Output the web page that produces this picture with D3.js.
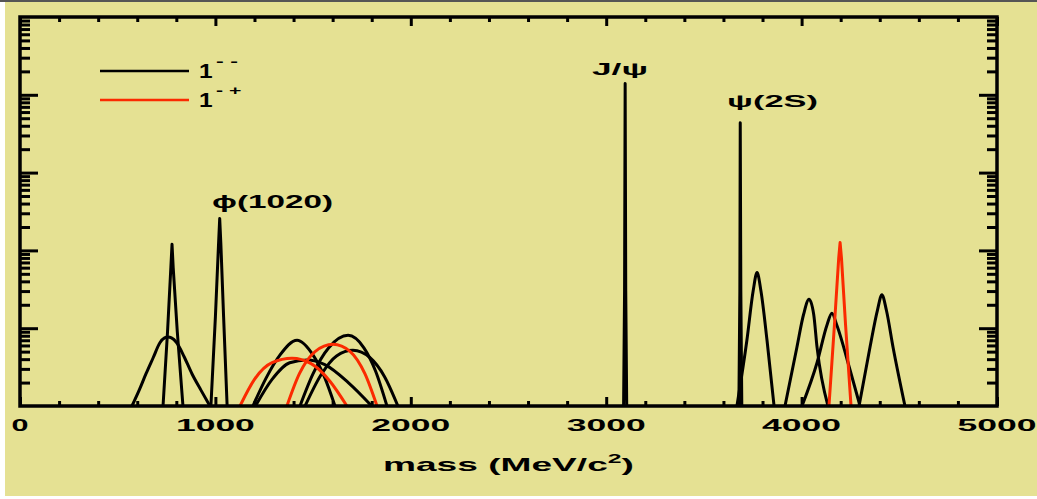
<!DOCTYPE html>
<html><head><meta charset="utf-8">
<script src="https://cdn.jsdelivr.net/npm/d3@7"></script>
<style>html,body{margin:0;padding:0;background:#fff;}svg{display:block;}</style>
</head><body>
<svg id="c" width="1037" height="499"></svg>
<script>
// ---- data: [mass MeV/c^2, relative value] ----
const rho770   = [[573,1],[610,1.6],[645,2.6],[682,4.2],[716,6.5],[740,7.5],[757,7.7],[775,7.5],[800,6.6],[840,4.3],[880,2.6],[926,1.6],[972,1]];
const omega782 = [[732,1],[755,9],[772,60],[778,120],[784,60],[805,9],[834,1]];
const phi1020  = [[977,1],[1000,14],[1016,120],[1022,257],[1028,120],[1042,14],[1060,1]];
const bw1420   = [[1192,1],[1260,2.3],[1330,4.5],[1418,7.0],[1500,4.5],[1560,2.3],[1612,1]];
const bw1460   = [[1205,1],[1290,2.2],[1380,3.6],[1470,3.9],[1560,3.4],[1680,2.0],[1800,1]];
const bw1680   = [[1433,1],[1500,2.6],[1580,5.6],[1679,8.1],[1760,5.6],[1820,2.8],[1878,1]];
const bw1700   = [[1459,1],[1540,2.5],[1620,4.4],[1704,5.2],[1790,4.2],[1865,2.4],[1934,1]];
const jpsi     = [[3089,1],[3094,30],[3097,14000],[3100,30],[3105,1]];
const psi2S    = [[3679,1],[3684,30],[3686,4370],[3689,30],[3694,1]];
const psi3770  = [[3669,1],[3720,7],[3752,30],[3772,52],[3792,30],[3823,7],[3859,1]];
const psi4040  = [[3915,1],[3976,5.7],[4010,15],[4038,23.5],[4062,15],[4079,5.7],[4135,1]];
const psi4160  = [[4002,1],[4079,3.6],[4130,11],[4155,15.6],[4180,11],[4248,2.9],[4299,1]];
const psi4415  = [[4294,1],[4350,5.7],[4388,17],[4411,27],[4434,17],[4468,5.7],[4529,1]];
const ex1400   = [[1126,1],[1200,2.2],[1290,3.6],[1392,4.1],[1490,3.5],[1585,2.1],[1673,1]];
const ex1600   = [[1366,1],[1430,2.6],[1510,5.0],[1602,6.2],[1690,5.0],[1765,2.6],[1827,1]];
const ex4200   = [[4140,1],[4168,11],[4190,80],[4197,126],[4204,80],[4225,11],[4253,1]];

const vectorSeries = [rho770, omega782, phi1020, bw1420, bw1460, bw1680, bw1700,
                      jpsi, psi2S, psi3770, psi4040, psi4160, psi4415];
const exoticSeries = [ex1400, ex1600, ex4200];
const sharpSeries  = [omega782, phi1020, jpsi, psi2S, ex4200];

const xTickLabels = ["0","1000","2000","3000","4000","5000"];
const xMajor = [0,1000,2000,3000,4000,5000];
const xMinor = [200,400,600,800,1200,1400,1600,1800,2200,2400,2600,2800,3200,3400,3600,3800,4200,4400,4600,4800];
const legendMain = ["1","1"];
const legendSup  = ["- -","- +"];
const peakLabels = ["\u03d5(1020)", "J/\u03c8", "\u03c8(2S)"];
const xTitle = "mass (MeV/c";

// ---- drawing ----
const svg = d3.select("#c");
const BG = "#e5e193", RED = "#fb2a00";
svg.append("rect").attr("x",5).attr("y",2).attr("width",1032).attr("height",494).attr("fill",BG);
svg.append("rect").attr("x",0).attr("y",0).attr("width",1037).attr("height",2).attr("fill","#555");

const L=20, R=997, T=17, B=406;
const x = d3.scaleLinear().domain([0,5000]).range([L,R]);
const y = d3.scaleLog().domain([1,1e5]).range([B,T]);

function stretch(sel, x0, w){
  const bb = sel.node().getBBox();
  const s = w/bb.width;
  sel.attr("transform",`translate(${x0},0) scale(${s},1) translate(${-bb.x},0)`);
}

svg.append("clipPath").attr("id","pc").append("rect")
  .attr("x",L).attr("y",T).attr("width",R-L).attr("height",B-T);

const smooth = d3.line().x(d=>x(d[0])).y(d=>y(d[1])).curve(d3.curveMonotoneX);
const sharp  = d3.line().x(d=>x(d[0])).y(d=>y(d[1])).curve(d3.curveLinear);
const pathOf = d => (sharpSeries.includes(d) ? sharp : smooth)(d);
const g = svg.append("g").attr("clip-path","url(#pc)");
g.selectAll("path.v").data(vectorSeries).join("path").attr("class","v")
  .attr("d",pathOf).attr("fill","none").attr("stroke","#000").attr("stroke-width",3).attr("stroke-linejoin","round");
g.selectAll("path.e").data(exoticSeries).join("path").attr("class","e")
  .attr("d",pathOf).attr("fill","none").attr("stroke",RED).attr("stroke-width",3).attr("stroke-linejoin","round");

function styleAxis(a){ a.select(".domain").remove(); a.selectAll("line").attr("stroke","#000").attr("stroke-width",3); a.selectAll("text").remove(); }
svg.append("g").attr("transform",`translate(0,${B})`).call(d3.axisBottom(x).tickValues(xMajor).tickSize(-9)).call(styleAxis);
svg.append("g").attr("transform",`translate(0,${B})`).call(d3.axisBottom(x).tickValues(xMinor).tickSize(-5)).call(styleAxis);
svg.append("g").attr("transform",`translate(0,${T})`).call(d3.axisTop(x).tickValues(xMajor).tickSize(-9)).call(styleAxis);
svg.append("g").attr("transform",`translate(0,${T})`).call(d3.axisTop(x).tickValues(xMinor).tickSize(-5)).call(styleAxis);

const yMajor = [10,100,1000,10000];
const yMinor = y.ticks().filter(v=>!yMajor.includes(v) && v>1 && v<1e5);
svg.append("g").attr("transform",`translate(${L},0)`).call(d3.axisLeft(y).tickValues(yMajor).tickSize(-18)).call(styleAxis);
svg.append("g").attr("transform",`translate(${L},0)`).call(d3.axisLeft(y).tickValues(yMinor).tickSize(-10)).call(styleAxis);
svg.append("g").attr("transform",`translate(${R},0)`).call(d3.axisRight(y).tickValues(yMajor).tickSize(-18)).call(styleAxis);
svg.append("g").attr("transform",`translate(${R},0)`).call(d3.axisRight(y).tickValues(yMinor).tickSize(-10)).call(styleAxis);

svg.append("rect").attr("x",L).attr("y",T).attr("width",R-L).attr("height",B-T)
  .attr("fill","none").attr("stroke","#000").attr("stroke-width",3.5);

const FONT = "'Liberation Sans', Arial, sans-serif";
xTickLabels.forEach((t,i)=>{
  const w = t.length===1 ? 17 : 79;
  const tx = svg.append("text").attr("x",0).attr("y",431).attr("font-family",FONT)
    .attr("font-weight","bold").attr("font-size",17).attr("fill","#000").text(t);
  stretch(tx, x(xMajor[i]) - w/2, w);
});

const tt = svg.append("text").attr("x",0).attr("y",471).attr("font-family",FONT)
  .attr("font-weight","bold").attr("font-size",18).attr("fill","#000");
tt.append("tspan").text(xTitle);
tt.append("tspan").attr("dy",-8).attr("font-size",12).text("2");
tt.append("tspan").attr("dy",8).text(")");
stretch(tt, 383, 251);

const plPos = [{x0:212,w:121,yb:208,fs:19},{x0:592,w:56,yb:75,fs:16},{x0:727,w:91,yb:107,fs:16}];
peakLabels.forEach((p,i)=>{
  const q = plPos[i];
  const t = svg.append("text").attr("x",0).attr("y",q.yb).attr("font-family",FONT)
    .attr("font-weight","bold").attr("font-size",q.fs).attr("fill","#000").text(p);
  stretch(t, q.x0, q.w);
});

const legY = [71,100], legCol = ["#000",RED];
legY.forEach((ly,i)=>{
  svg.append("line").attr("x1",100).attr("x2",189).attr("y1",ly).attr("y2",ly)
    .attr("stroke",legCol[i]).attr("stroke-width",2.5);
  const t = svg.append("text").attr("x",0).attr("y",ly+7).attr("font-family",FONT)
    .attr("font-weight","bold").attr("font-size",21).attr("fill","#000").text(legendMain[i]);
  stretch(t, 199, 14);
  const s = svg.append("text").attr("x",0).attr("y",ly-5).attr("font-family",FONT)
    .attr("font-weight","bold").attr("font-size",13).attr("fill","#000").text(legendSup[i]);
  stretch(s, 216, i===0?22:26);
});
</script>
</body></html>
